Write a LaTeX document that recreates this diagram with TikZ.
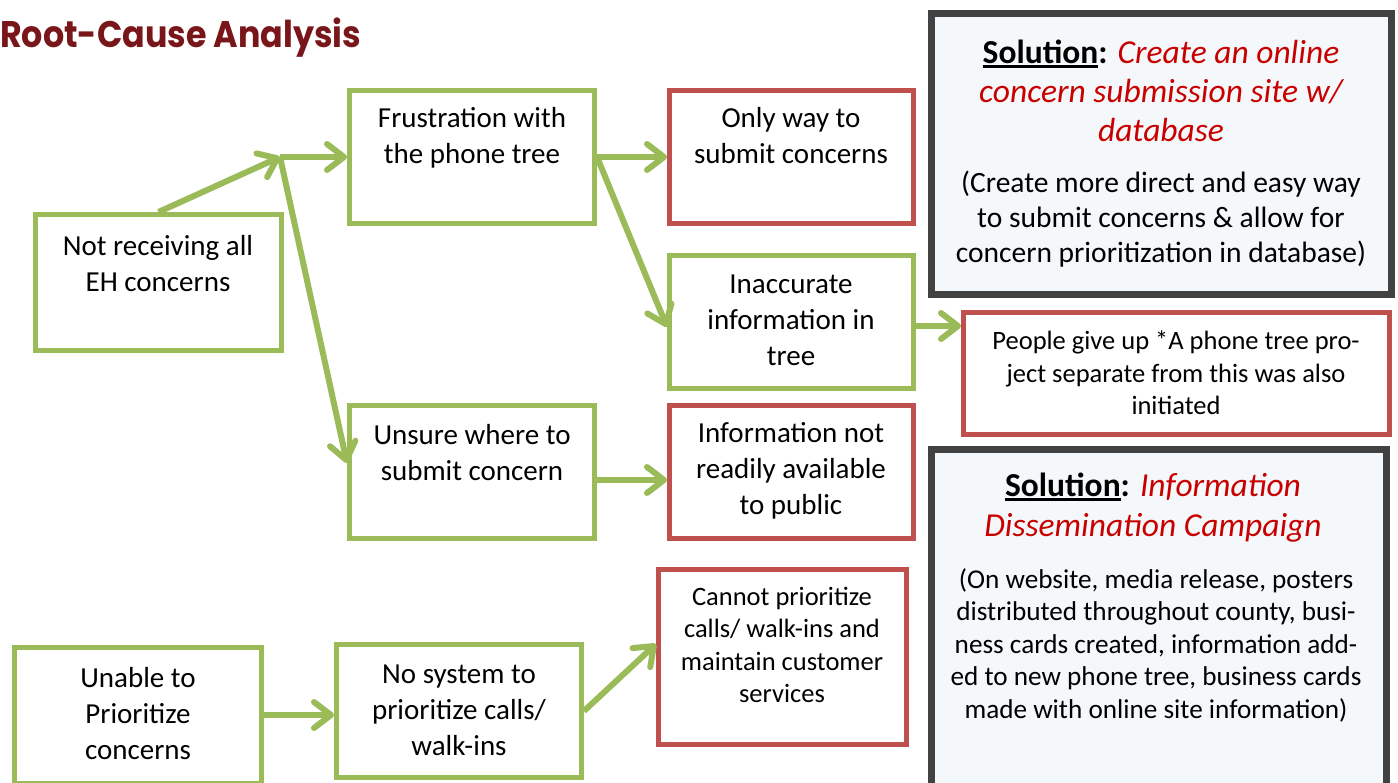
\documentclass[tikz,border=0pt]{standalone}
\usepackage{fontspec}
\setmainfont{Carlito}
\newfontfamily\titlefont{Poppins}
\usepackage{xcolor}
\usepackage{tikz}
\usetikzlibrary{positioning,arrows.meta,calc}
\definecolor{causegreen}{RGB}{155,187,89}
\definecolor{effectred}{RGB}{192,80,77}
\definecolor{solgray}{RGB}{66,66,66}
\definecolor{solfill}{RGB}{245,248,250}
\definecolor{soltext}{RGB}{200,0,0}
\definecolor{titlered}{RGB}{120,22,26}
\tikzset{%
	cause/.style    = {draw=causegreen, line width=5pt, rectangle, inner sep=0pt},
	effect/.style   = {draw=effectred, line width=5pt, rectangle, inner sep=0pt},
	solution/.style = {draw=solgray, fill=solfill, line width=7pt, rectangle, inner sep=0pt},
	txt/.style      = {align=center, inner sep=0pt, font=\fontsize{29}{36}\selectfont},
	smalltxt/.style = {align=center, inner sep=0pt, font=\fontsize{26.5}{32.5}\selectfont},
	link/.style     = {draw=causegreen, line width=6pt,
		-{Straight Barb[length=17pt,width=26pt,round]}}
}
\newcommand{\solul}[1]{\setbox0\hbox{#1}\rlap{\rule[-4pt]{\wd0}{2.8pt}}\box0}
\newcommand{\solred}[1]{\textcolor{soltext}{\itshape #1}}

\begin{document}
\begin{tikzpicture}[x=1pt, y=-1pt]
	\useasboundingbox (0,0) rectangle (1398,783);
	\node[anchor=west, inner sep=0pt, text=titlered,
		font=\titlefont\bfseries\fontsize{37}{40}\selectfont] (title) at (0,38)
		{\scalebox{0.9}[1]{Root-Cause Analysis}};
	
	% solutions
	\draw
		node at (1161.5,154) [solution, minimum width=460pt, minimum height=281pt] (sol1) {}
		node at (1159,630) [solution, minimum width=455pt, minimum height=361pt] (sol2) {};
	
	% causes and effects
	\draw
		node at (158.5,282.5) [cause, minimum width=246pt, minimum height=136pt] (notrec) {}
		node at (472,157) [cause, minimum width=245pt, minimum height=133pt] (frust) {}
		node [effect, minimum width=244pt, minimum height=133pt, right=70pt of frust] (only) {}
		node [cause, minimum width=244pt, minimum height=133pt, below=27pt of only] (inacc) {}
		node at (472,472) [cause, minimum width=245pt, minimum height=133pt] (unsure) {}
		node [effect, minimum width=244pt, minimum height=133pt, right=70pt of unsure] (info) {}
		node at (1176.5,373.5) [effect, minimum width=426pt, minimum height=122pt] (people) {}
		node at (138,715) [cause, minimum width=247pt, minimum height=136pt] (unable) {}
		node at (459,711) [cause, minimum width=245pt, minimum height=133pt] (nosys) {}
		node at (782.5,657) [effect, minimum width=248pt, minimum height=175pt] (cannot) {};
	
	% texts
	\node[txt] (notrec-t) at (158,264) {Not receiving all\\EH concerns};
	\node[txt] (frust-t) at (472,138) {Frustration with\\the phone tree};
	\node[txt] (only-t) at (791,136) {Only way to\\submit concerns};
	\node[txt] (inacc-t) at (791,320) {Inaccurate\\information in\\tree};
	\node[txt] (unsure-t) at (472,453) {Unsure where to\\submit concern};
	\node[txt] (info-t) at (791,471) {Information not\\readily available\\to public};
	\node[txt] (unable-t) at (138,714) {Unable to\\Prioritize\\concerns};
	\node[txt] (nosys-t) at (459,710) {No system to\\prioritize calls/\\walk-ins};
	\node[smalltxt] (cannot-t) at (782,645) {Cannot prioritize\\calls/ walk-ins and\\maintain customer\\services};
	\node[smalltxt] (people-t) at (1176,373) {People give up *A phone tree pro-\\ject separate from this was also\\initiated};
	
	\node[align=center, inner sep=0pt, font=\fontsize{33.5}{39}\selectfont] (sol1-h) at (1161,91)
		{\solul{\textbf{Solution}}\textbf{:} \solred{Create an online}\\\solred{concern submission site w/}\\\solred{database}};
	\node[align=center, inner sep=0pt, font=\fontsize{29.5}{35}\selectfont] (sol1-b) at (1161,219)
		{(Create more direct and easy way\\to submit concerns \& allow for\\concern prioritization in database)};
	\node[align=center, inner sep=0pt, font=\fontsize{33.5}{40}\selectfont] (sol2-h) at (1153,508)
		{\solul{\textbf{Solution}}\textbf{:} \solred{Information}\\\solred{Dissemination Campaign}};
	\node[align=center, inner sep=0pt, font=\fontsize{27.2}{32.5}\selectfont] (sol2-b) at (1156,645)
		{(On website, media release, posters\\distributed throughout county, busi-\\ness cards created, information add-\\ed to new phone tree, business cards\\made with online site information)};
	
	% connectors
	\coordinate (fork) at (280,157);
	\draw[link] (notrec.north) -- (fork);
	\draw[link] (fork) -- (frust.west);
	\draw[link] (fork) -- ([yshift=9pt]unsure.west);
	\draw[link] (frust.east) -- (only.west);
	\draw[link] (frust.east) -- ([yshift=-5pt]inacc.west);
	\draw[link] ([yshift=-4pt]inacc.east) -- ([yshift=-4pt]inacc.east -| people.west);
	\draw[link] ([yshift=-8pt]unsure.east) -- ([yshift=-8pt]info.west);
	\draw[link] (unable.east) -- (unable.east -| nosys.west);
	\draw[link] (nosys.east) -- ([yshift=13pt]cannot.west);
\end{tikzpicture}
\end{document}
